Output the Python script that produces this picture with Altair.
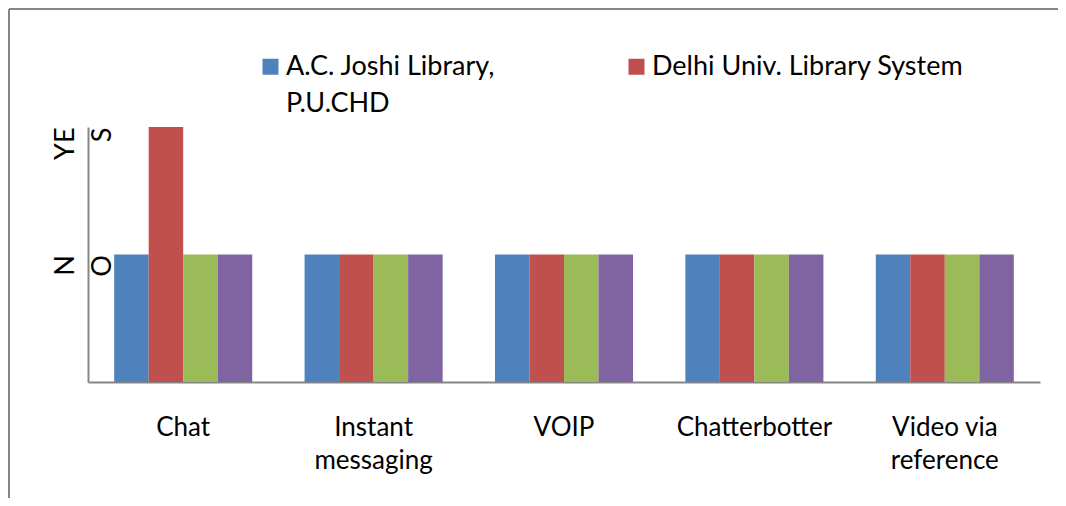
import altair as alt
import pandas as pd

# ---- data -------------------------------------------------------------
categories = ["Chat", "Instant messaging", "VOIP", "Chatterbotter", "Video via reference"]
category_lines = [["Chat"], ["Instant", "messaging"], ["VOIP"], ["Chatterbotter"], ["Video via", "reference"]]
series = ["A.C. Joshi Library, P.U.CHD", "Delhi Univ. Library System", "Series 3", "Series 4"]
legend_series = ["A.C. Joshi Library, P.U.CHD", "Delhi Univ. Library System"]
legend_lines = [["A.C. Joshi Library,", "P.U.CHD"], ["Delhi Univ. Library System", ""]]
colors = ["#4F81BD", "#C0504D", "#9BBB59", "#8064A2"]

# response coded as 1 = NO, 2 = YES
acjoshi = [1, 1, 1, 1, 1]
delhi = [2, 1, 1, 1, 1]
series3 = [1, 1, 1, 1, 1]
series4 = [1, 1, 1, 1, 1]

y_tick_values = [1, 2]
y_tick_lines = [["N", "O"], ["YE", "S"]]

rows = []
for s, vals in zip(series, [acjoshi, delhi, series3, series4]):
    for c, v in zip(categories, vals):
        rows.append({"category": c, "series": s, "value": v})
df = pd.DataFrame(rows)


def lines_expr(keys, lines, field):
    expr = "datum.label"
    for k, ln in reversed(list(zip(keys, lines))):
        arr = "[" + ",".join("'" + t + "'" for t in ln) + "]"
        key = ("'" + k + "'") if isinstance(k, str) else str(k)
        expr = f"{field} == {key} ? {arr} : ({expr})"
    return expr


x_label_expr = lines_expr(categories, category_lines, "datum.label")
y_label_expr = lines_expr(y_tick_values, y_tick_lines, "datum.value")
legend_label_expr = lines_expr(legend_series, legend_lines, "datum.label")

FONT = "Lato"
AXIS_GRAY = "#868686"
# square symbol that sits on the label's first baseline
RAISED_SQUARE = "M-1,-2H1V0H-1Z"

bars = alt.Chart(df).mark_bar(strokeWidth=0).encode(
    x=alt.X(
        "category:N",
        sort=categories,
        scale=alt.Scale(paddingInner=0.275, paddingOuter=0.1375),
        axis=alt.Axis(
            title=None,
            labelAngle=0,
            labelExpr=x_label_expr,
            labelFont=FONT,
            labelFontSize=26,
            labelColor="#000000",
            labelBaseline="top",
            labelLineHeight=33,
            labelPadding=32,
            labelLimit=400,
            ticks=False,
            tickSize=0,
            domainColor=AXIS_GRAY,
            domainWidth=2,
        ),
    ),
    xOffset=alt.XOffset("series:N", sort=series, scale=alt.Scale(paddingInner=0, paddingOuter=0)),
    y=alt.Y(
        "value:Q",
        scale=alt.Scale(domain=[0, 2], nice=False),
        axis=alt.Axis(
            title=None,
            values=y_tick_values,
            labelExpr=y_label_expr,
            labelAngle=270,
            labelAlign="right",
            labelBaseline="alphabetic",
            labelFont=FONT,
            labelFontSize=27,
            labelColor="#000000",
            labelLineHeight=37,
            labelPadding=15,
            ticks=False,
            tickSize=0,
            grid=False,
            domainColor=AXIS_GRAY,
            domainWidth=2,
        ),
    ),
    color=alt.Color(
        "series:N",
        sort=series,
        scale=alt.Scale(domain=series, range=colors),
        legend=alt.Legend(
            title=None,
            values=legend_series,
            orient="none",
            legendX=169,
            legendY=-66,
            direction="horizontal",
            columns=2,
            columnPadding=127,
            padding=0,
            symbolType=RAISED_SQUARE,
            symbolSize=256,
            symbolStrokeWidth=0,
            labelFont=FONT,
            labelFontSize=27,
            labelColor="#000000",
            labelBaseline="alphabetic",
            labelOffset=2,
            labelLimit=400,
            labelExpr=legend_label_expr,
        ),
    ),
)

frame_top = alt.Chart(df).mark_rule(color=AXIS_GRAY, strokeWidth=2).encode(
    x=alt.value(-79), x2=alt.value(990), y=alt.value(-118)
)
frame_left = alt.Chart(df).mark_rule(color=AXIS_GRAY, strokeWidth=2).encode(
    x=alt.value(-79), y=alt.value(-118), y2=alt.value(390)
)

chart = alt.layer(frame_top, frame_left, bars).properties(
    width=952,
    height=255,
    autosize=alt.AutoSizeParams(type="none"),
    padding={"left": 80, "top": 119, "right": 18, "bottom": 116},
).configure(
    style={"guide-label": {"lineHeight": 37}}
).configure_view(stroke=None)

chart.save("out.html", embed_options={"renderer": "svg", "actions": False})
